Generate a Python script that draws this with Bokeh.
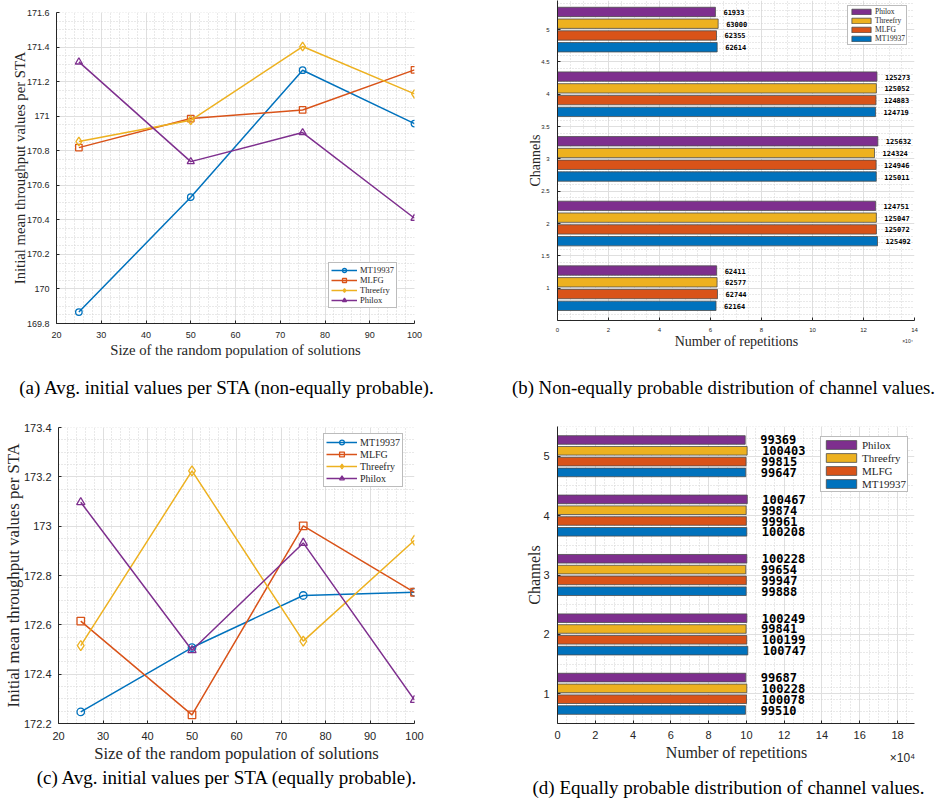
import numpy as np
from bokeh.plotting import figure
from bokeh.models import (Range1d, FixedTicker, NumeralTickFormatter, CustomJSTickFormatter,
                          Legend, LegendItem, Label, ColumnDataSource)
from bokeh.layouts import row, column
from bokeh.embed import file_html
from bokeh.resources import INLINE
from bokeh.core.properties import value
from bokeh.transform import dodge

# ---------------- data ----------------
GENERATORS = ["MT19937", "MLFG", "Threefry", "Philox"]
COLORS = ["#0072BD", "#D95319", "#EDB120", "#7E2F8E"]
MARKERS = ["circle", "square", "diamond", "triangle"]
MARKER_SCALE = [1.0, 1.0, 1.35, 1.1]

POP_SIZES = [25, 50, 75, 100]

# avg. initial throughput per STA, non-equally probable channels
A_MT19937 = [169.866, 170.531, 171.266, 170.957]
A_MLFG = [170.818, 170.986, 171.036, 171.268]
A_THREEFRY = [170.853, 170.976, 171.403, 171.129]
A_PHILOX = [171.314, 170.737, 170.905, 170.409]

# avg. initial throughput per STA, equally probable channels
C_MT19937 = [172.247, 172.508, 172.719, 172.732]
C_MLFG = [172.615, 172.235, 173.001, 172.732]
C_THREEFRY = [172.516, 173.224, 172.534, 172.943]
C_PHILOX = [173.097, 172.497, 172.932, 172.295]

CHANNELS = [1, 2, 3, 4, 5]

# repetitions per channel, non-equally probable
B_MT19937 = [62164, 125492, 125011, 124719, 62614]
B_MLFG = [62744, 125072, 124946, 124883, 62355]
B_THREEFRY = [62577, 125047, 124324, 125052, 63000]
B_PHILOX = [62411, 124751, 125632, 125273, 61933]

# repetitions per channel, equally probable
D_MT19937 = [99510, 100747, 99888, 100208, 99647]
D_MLFG = [100078, 100199, 99947, 99961, 99815]
D_THREEFRY = [100228, 99841, 99654, 99874, 100403]
D_PHILOX = [99687, 100249, 100228, 100467, 99369]

X_TICKS = [20, 30, 40, 50, 60, 70, 80, 90, 100]
A_YTICKS = [169.8, 170.0, 170.2, 170.4, 170.6, 170.8, 171.0, 171.2, 171.4, 171.6]
C_YTICKS = [172.2, 172.4, 172.6, 172.8, 173.0, 173.2, 173.4]
B_XTICKS = [0, 20000, 40000, 60000, 80000, 100000, 120000, 140000]
D_XTICKS = [0, 20000, 40000, 60000, 80000, 100000, 120000, 140000, 160000, 180000]
B_YTICKS = [1, 1.5, 2, 2.5, 3, 3.5, 4, 4.5, 5]
D_YTICKS = [1, 2, 3, 4, 5]

CAPTIONS = ["(a) Avg. initial values per STA (non-equally probable).",
            "(b) Non-equally probable distribution of channel values.",
            "(c) Avg. initial values per STA (equally probable).",
            "(d) Equally probable distribution of channel values."]

XLABEL_LINES = "Size of the random population of solutions"
YLABEL_LINES = "Initial mean throughput values per STA"
XLABEL_BARS = "Number of repetitions"
YLABEL_BARS = "Channels"
X_EXPONENT = "\u00d710\u2074"

# ---------------- styling ----------------
SERIF = "Liberation Serif"
SANS = "Liberation Sans"
MONO = "DejaVu Sans Mono"
INK = "#262626"
GRID = "#dfdfdf"
MINOR = "#d2d2d2"
CAP_PX = "19px"


def base_style(p, tick_px, label_px):
    p.outline_line_color = None
    p.background_fill_color = "white"
    p.border_fill_color = "white"
    for ax in (p.xaxis, p.yaxis):
        ax.axis_line_color = INK
        ax.axis_line_width = 1
        ax.major_tick_line_color = INK
        ax.major_tick_in = 3
        ax.major_tick_out = 0
        ax.minor_tick_line_color = None
        ax.major_label_text_font = SANS
        ax.major_label_text_font_size = tick_px
        ax.major_label_text_color = INK
        ax.axis_label_text_font = SERIF
        ax.axis_label_text_font_style = "normal"
        ax.axis_label_text_font_size = label_px
        ax.axis_label_text_color = INK
    for g in (p.xgrid, p.ygrid):
        g.grid_line_color = GRID
        g.grid_line_width = 1
        g.minor_grid_line_color = MINOR
        g.minor_grid_line_dash = "1 2"
        g.minor_grid_line_width = 1


def text_strip(width, height, texts):
    """A bare canvas holding free text; each entry is (text, x, y, font, size, color)."""
    s = figure(width=width, height=height, x_axis_type=None, y_axis_type=None,
               x_range=Range1d(0, 1), y_range=Range1d(0, 1), output_backend="svg",
               toolbar_location=None, min_border=0, frame_align=False)
    s.outline_line_color = None
    s.background_fill_color = "white"
    s.border_fill_color = "white"
    for txt, x, y, font, size, color in texts:
        s.add_layout(Label(x=x, y=y, x_units="screen", y_units="screen", text=txt,
                           text_font=font, text_font_size=size, text_color=color,
                           text_align="center", text_baseline="middle"))
    return s


def line_panel(series, y_range, y_ticks, height, borders, tick_px, label_px,
               legend_px, legend_loc, glyph_w, item_h, msize, ylab_standoff):
    left, right, top, bottom = borders
    p = figure(width=470, height=height, x_range=Range1d(20, 100),
               y_range=Range1d(*y_range), output_backend="svg", toolbar_location=None,
               min_border_left=left, min_border_right=right, min_border_top=top,
               min_border_bottom=bottom, frame_align=False)
    base_style(p, tick_px, label_px)
    p.xaxis.ticker = FixedTicker(ticks=X_TICKS, minor_ticks=list(np.arange(20, 101, 2)))
    p.yaxis.ticker = FixedTicker(ticks=y_ticks,
                                 minor_ticks=list(np.arange(y_range[0], y_range[1] + 1e-6, 0.05)))
    p.yaxis.formatter = NumeralTickFormatter(format="0.[0]")
    p.xaxis.axis_label = XLABEL_LINES
    p.yaxis.axis_label = YLABEL_LINES
    p.xaxis.major_label_standoff = 4
    p.yaxis.major_label_standoff = 3
    p.xaxis.axis_label_standoff = 1
    p.yaxis.axis_label_standoff = ylab_standoff

    items = []
    for name, ys, col, mk, sc in zip(GENERATORS, series, COLORS, MARKERS, MARKER_SCALE):
        src = ColumnDataSource(dict(x=POP_SIZES, y=ys))
        lr = p.line("x", "y", source=src, line_color=col, line_width=1.5)
        sr = p.scatter("x", "y", source=src, marker=mk, size=msize * sc, line_color=col,
                       line_width=1.3, fill_color=None)
        items.append(LegendItem(label=name, renderers=[lr, sr]))
    leg = Legend(items=items, location=legend_loc, margin=0, padding=2, spacing=0,
                 glyph_width=glyph_w, glyph_height=item_h, label_height=item_h,
                 label_standoff=3, label_text_font=SERIF, label_text_font_size=legend_px,
                 label_text_color=INK, border_line_color="#7a7a7a", border_line_width=1,
                 background_fill_color="white", background_fill_alpha=1)
    p.add_layout(leg)
    return p


def bar_panel(series, x_max, x_ticks, y_ticks, y_top, y_minor, height, borders, tick_px,
              label_px, bar_px, bar_off, legend_px, legend_loc, glyph_w, glyph_h, item_h,
              ylab_standoff):
    left, right, top, bottom = borders
    p = figure(width=469, height=height, x_range=Range1d(0, x_max),
               y_range=Range1d(0.5, y_top), output_backend="svg", toolbar_location=None,
               min_border_left=left, min_border_right=right, min_border_top=top,
               min_border_bottom=bottom, frame_align=False)
    base_style(p, tick_px, label_px)
    p.xaxis.ticker = FixedTicker(ticks=x_ticks, minor_ticks=list(np.arange(0, x_max + 1, 5000)))
    p.yaxis.ticker = FixedTicker(ticks=y_ticks,
                                 minor_ticks=list(np.arange(0.5, 5.51, y_minor)))
    p.xaxis.formatter = CustomJSTickFormatter(code="return String(Math.round(tick / 1e4));")
    p.yaxis.formatter = NumeralTickFormatter(format="0.[0]")
    p.yaxis.axis_label = YLABEL_BARS
    p.xaxis.major_label_standoff = 3
    p.yaxis.major_label_standoff = 4
    p.yaxis.axis_label_standoff = ylab_standoff

    offsets = [-0.273, -0.091, 0.091, 0.273]
    renderers = {}
    for name, vals, col, off in zip(GENERATORS, series, COLORS, offsets):
        src = ColumnDataSource(dict(ch=CHANNELS, v=vals, lab=[str(v) for v in vals]))
        r = p.hbar(y=dodge("ch", off), right="v", left=0, height=0.145, source=src,
                   fill_color=col, line_color="#4d4d4d", line_width=0.8)
        p.text(x="v", y=dodge("ch", off), text="lab", source=src, x_offset=bar_off,
               text_baseline="middle", text_align="left", text_font=value(MONO),
               text_font_style="bold", text_font_size=bar_px, text_color="black")
        renderers[name] = r
    items = [LegendItem(label=n, renderers=[renderers[n]])
             for n in ["Philox", "Threefry", "MLFG", "MT19937"]]
    leg = Legend(items=items, location=legend_loc, margin=0, padding=1, spacing=0,
                 glyph_width=glyph_w, glyph_height=glyph_h, label_height=item_h,
                 label_standoff=2, label_text_font=SERIF, label_text_font_size=legend_px,
                 label_text_color=INK, border_line_color="#7a7a7a", border_line_width=1,
                 background_fill_color="white", background_fill_alpha=1)
    p.add_layout(leg)
    return p


# top row: panel (a) and panel (b)
pa = line_panel([A_MT19937, A_MLFG, A_THREEFRY, A_PHILOX], (169.8, 171.6), A_YTICKS,
                365, (56, 56, 12, 42), "9px", "14.7px", "8.5px", (272, 15), 26, 10, 6.5, -4)
sa = text_strip(470, 35, [(CAPTIONS[0], 227, 13, SERIF, CAP_PX, "black")])

pb = bar_panel([B_MT19937, B_MLFG, B_THREEFRY, B_PHILOX], 140000, B_XTICKS, B_YTICKS, 5.45,
               0.1, 334, (87, 25, 0, 12), "6px", "14px", "7px", 8, "7.5px", (290, 275),
               24, 7, 9, -5)
sb = text_strip(469, 66, [(XLABEL_BARS, 266, 59, SERIF, "14px", INK),
                          (X_EXPONENT, 437, 60, SANS, "5px", INK),
                          (CAPTIONS[1], 253, 13, SERIF, "18.8px", "black")])

# bottom row: panel (c) and panel (d)
pc = line_panel([C_MT19937, C_MLFG, C_THREEFRY, C_PHILOX], (172.2, 173.4), C_YTICKS,
                365, (56, 56, 27, 42), "11px", "16.7px", "10px", (265, 236), 31, 12, 7.5, -2)
sc = text_strip(470, 34, [(CAPTIONS[2], 227, 22, SERIF, CAP_PX, "black")])

pd = bar_panel([D_MT19937, D_MLFG, D_THREEFRY, D_PHILOX], 189000, D_XTICKS, D_YTICKS, 5.5,
               0.2, 344, (87, 25, 26, 21), "11px", "16px", "12px", 15, "11px", (263, 231),
               38, 11, 13, -3)
sd = text_strip(469, 55, [(XLABEL_BARS, 266, 47, SERIF, "16px", INK),
                          (X_EXPONENT, 432, 42, SANS, "12px", INK),
                          (CAPTIONS[3], 258, 12, SERIF, CAP_PX, "black")])

layout = column(row(column(pa, sa), column(pb, sb)),
                row(column(pc, sc), column(pd, sd)))
open("out.html", "w").write(file_html(layout, INLINE))
